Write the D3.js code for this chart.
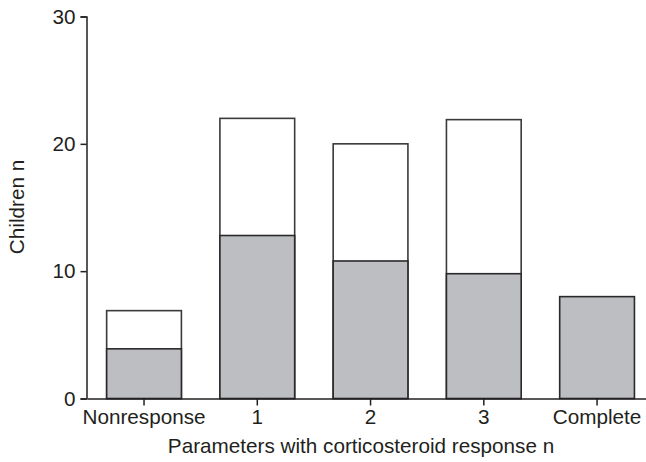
<!DOCTYPE html>
<html>
<head>
<meta charset="utf-8">
<script src="https://cdn.jsdelivr.net/npm/d3@7"></script>
<style>
  body { margin: 0; background: #fff; }
  svg { display: block; }
  text { font-family: "Liberation Sans", Arial, sans-serif; fill: #231f20; }
</style>
</head>
<body>
<div id="chart"></div>
<script>
// categories and values
var categories = ["Nonresponse", "1", "2", "3", "Complete"];
var totalChildren = [6.9, 22, 20, 21.9, 8];     // full bar height
var grayChildren = [3.9, 12.8, 10.8, 9.8, 8];   // shaded lower part
var yTicks = [0, 10, 20, 30];

var width = 646, height = 462;
var fontSize = "20.7px";

var svg = d3.select("#chart")
    .append("svg")
    .attr("width", width)
    .attr("height", height);

// scales
var x = d3.scaleBand()
    .domain(categories)
    .range([87.4, 653.7])
    .paddingInner(0.34)
    .paddingOuter(0.17);

var y = d3.scaleLinear()
    .domain([0, 30])
    .range([398.5, 16.5]);

var rows = categories.map(function (c, i) {
    return { cat: c, total: totalChildren[i], gray: grayChildren[i] };
});

// white (upper) part drawn as full bar first
svg.selectAll(".total")
    .data(rows.filter(function (d) { return d.total > d.gray; }))
    .enter().append("rect")
    .attr("class", "total")
    .attr("x", function (d) { return x(d.cat); })
    .attr("width", x.bandwidth())
    .attr("y", function (d) { return y(d.total); })
    .attr("height", function (d) { return y(0) - y(d.total); })
    .style("fill", "#fff")
    .style("stroke", "#3a3a3a")
    .style("stroke-width", 1.6);

// gray part
svg.selectAll(".gray")
    .data(rows)
    .enter().append("rect")
    .attr("class", "gray")
    .attr("x", function (d) { return x(d.cat); })
    .attr("width", x.bandwidth())
    .attr("y", function (d) { return y(d.gray); })
    .attr("height", function (d) { return y(0) - y(d.gray); })
    .style("fill", "#bdbec2")
    .style("stroke", "#2a2a2a")
    .style("stroke-width", 1.6);

// x axis
var xAxis = svg.append("g")
    .attr("transform", "translate(0," + y(0) + ")")
    .call(d3.axisBottom(x).tickSize(7).tickSizeOuter(0).tickPadding(4));

// y axis
var yAxis = svg.append("g")
    .attr("transform", "translate(86.5,0)")
    .call(d3.axisLeft(y).tickValues(yTicks).tickSize(6).tickPadding(5));

[xAxis, yAxis].forEach(function (g) {
    g.selectAll("path, line").style("stroke", "#231f20").style("stroke-width", 1.5);
    g.selectAll("text").style("font-size", fontSize)
        .style("font-family", "'Liberation Sans', Arial, sans-serif")
        .style("fill", "#231f20");
});

// axis titles
svg.append("text")
    .attr("x", 361)
    .attr("y", 453)
    .attr("text-anchor", "middle")
    .style("font-size", fontSize)
    .text("Parameters with corticosteroid response n");

svg.append("text")
    .attr("transform", "translate(24,207) rotate(-90)")
    .attr("text-anchor", "middle")
    .style("font-size", fontSize)
    .text("Children n");
</script>
</body>
</html>
